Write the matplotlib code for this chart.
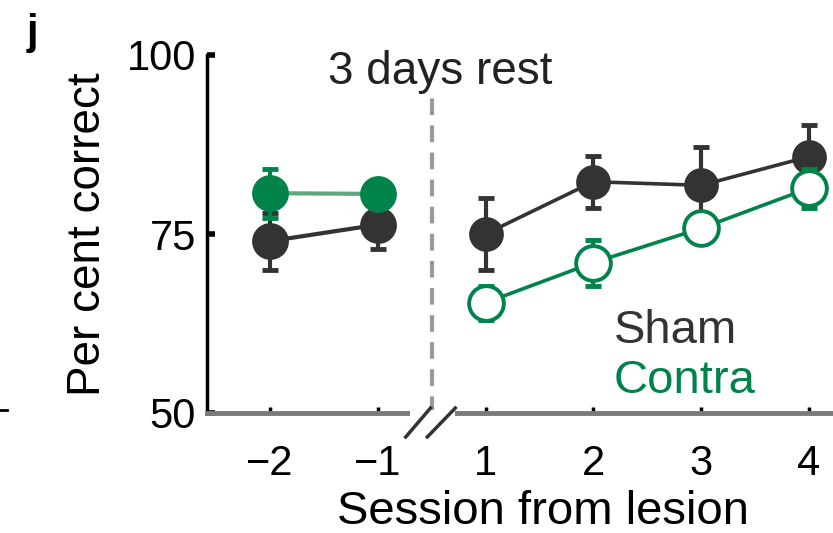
import matplotlib
matplotlib.use("Agg")
import matplotlib.pyplot as plt
from matplotlib.lines import Line2D
import matplotlib.transforms as mtransforms

plt.rcParams['font.family'] = ['Liberation Sans', 'DejaVu Sans']

# Data
sessions = ['\u22122', '\u22121', '1', '2', '3', '4']
sham_mean = [74.0, 76.3, 75.0, 82.3, 81.8, 85.8]
sham_err = [4.0, 3.4, 5.0, 3.6, 5.3, 4.4]
contra_mean = [80.7, 80.6, 65.4, 71.0, 75.8, 81.4]
contra_err = [3.4, 1.5, 2.4, 3.2, 1.5, 2.7]

DARK = '#333333'
GREEN = '#00834a'
LIGHT_GREEN = '#5fa77c'

fig = plt.figure(figsize=(8.33, 5.33), dpi=100)
ax = fig.add_axes([207 / 833, 1 - 413 / 533, 1 - 207 / 833 + 0.01, (413 - 55) / 533])

x = list(range(len(sessions)))
pre, post = slice(0, 2), slice(2, 6)


def draw_series(mean, err, color, pre_line, post_open, z):
    ax.plot(x[pre], mean[pre], color=pre_line, lw=3, zorder=z)
    ax.plot(x[post], mean[post], color=color, lw=2.6, zorder=z)
    ax.errorbar(x, mean, yerr=err, fmt='none', ecolor=color, elinewidth=3,
                capsize=5.5, capthick=3.5, zorder=z)
    ax.plot(x[pre], mean[pre], 'o', ms=26.5, mfc=color, mew=0, zorder=z + 0.5)
    ax.plot(x[post], mean[post], 'o', ms=25, mfc='white' if post_open else color,
            mec=color, mew=2.8 if post_open else 0, zorder=z + 0.5)


draw_series(sham_mean, sham_err, DARK, DARK, False, 3)
draw_series(contra_mean, contra_err, GREEN, LIGHT_GREEN, True, 4)

# Rest gap marker
ax.plot([1.5, 1.5], [50, 94.3], color='#999999', lw=3, dashes=(4, 2.5), zorder=1, clip_on=False)
ax.text(1.58, 97.6, '3 days rest', ha='center', va='center', fontsize=33, color='#222222')

ax.set_xlim(-0.583, 5.3)
ax.set_ylim(50, 100)
ax.set_xticks(x)
ax.set_xticklabels(sessions)
ax.set_yticks([50, 75, 100])

for side in ('top', 'right'):
    ax.spines[side].set_visible(False)
ax.spines['left'].set_linewidth(2.5)
ax.spines['left'].set_color('black')
ax.spines['bottom'].set_linewidth(3.5)
ax.spines['bottom'].set_color('#7a7a7a')

ax.tick_params(axis='y', direction='in', length=6, width=4, labelsize=30, pad=8, colors='black')
ax.tick_params(axis='x', direction='in', length=4, width=2.5, labelsize=30, pad=22, colors='black')

# Axis break slashes
trans = mtransforms.blended_transform_factory(ax.transData, fig.transFigure)
ax.add_line(Line2D([1.33, 1.68], [1 - 413 / 533] * 2, transform=trans, color='white', lw=5,
                   clip_on=False, zorder=5))
for x0, x1 in ((1.26, 1.49), (1.46, 1.72)):
    ax.add_line(Line2D([x0, x1], [1 - 437 / 533, 1 - 408 / 533], transform=trans,
                       color=DARK, lw=2.5, clip_on=False, zorder=6))

ax.set_ylabel('Per cent correct', fontsize=33, labelpad=12)
ax.set_xlabel('Session from lesion', fontsize=34)
ax.xaxis.set_label_coords(0.53, -0.215)

ax.text(3.19, 61.4, 'Sham', color=DARK, fontsize=34, ha='left', va='center')
ax.text(3.19, 54.5, 'Contra', color=GREEN, fontsize=34, ha='left', va='center')

fig.text(32 / 833, 1 - 33 / 533, 'j', fontsize=30, fontweight='bold', ha='center', va='center')
fig.add_artist(Line2D([0, 0.008], [1 - 410 / 533] * 2, color='black', lw=2))

fig.savefig('out.png', dpi=100)
